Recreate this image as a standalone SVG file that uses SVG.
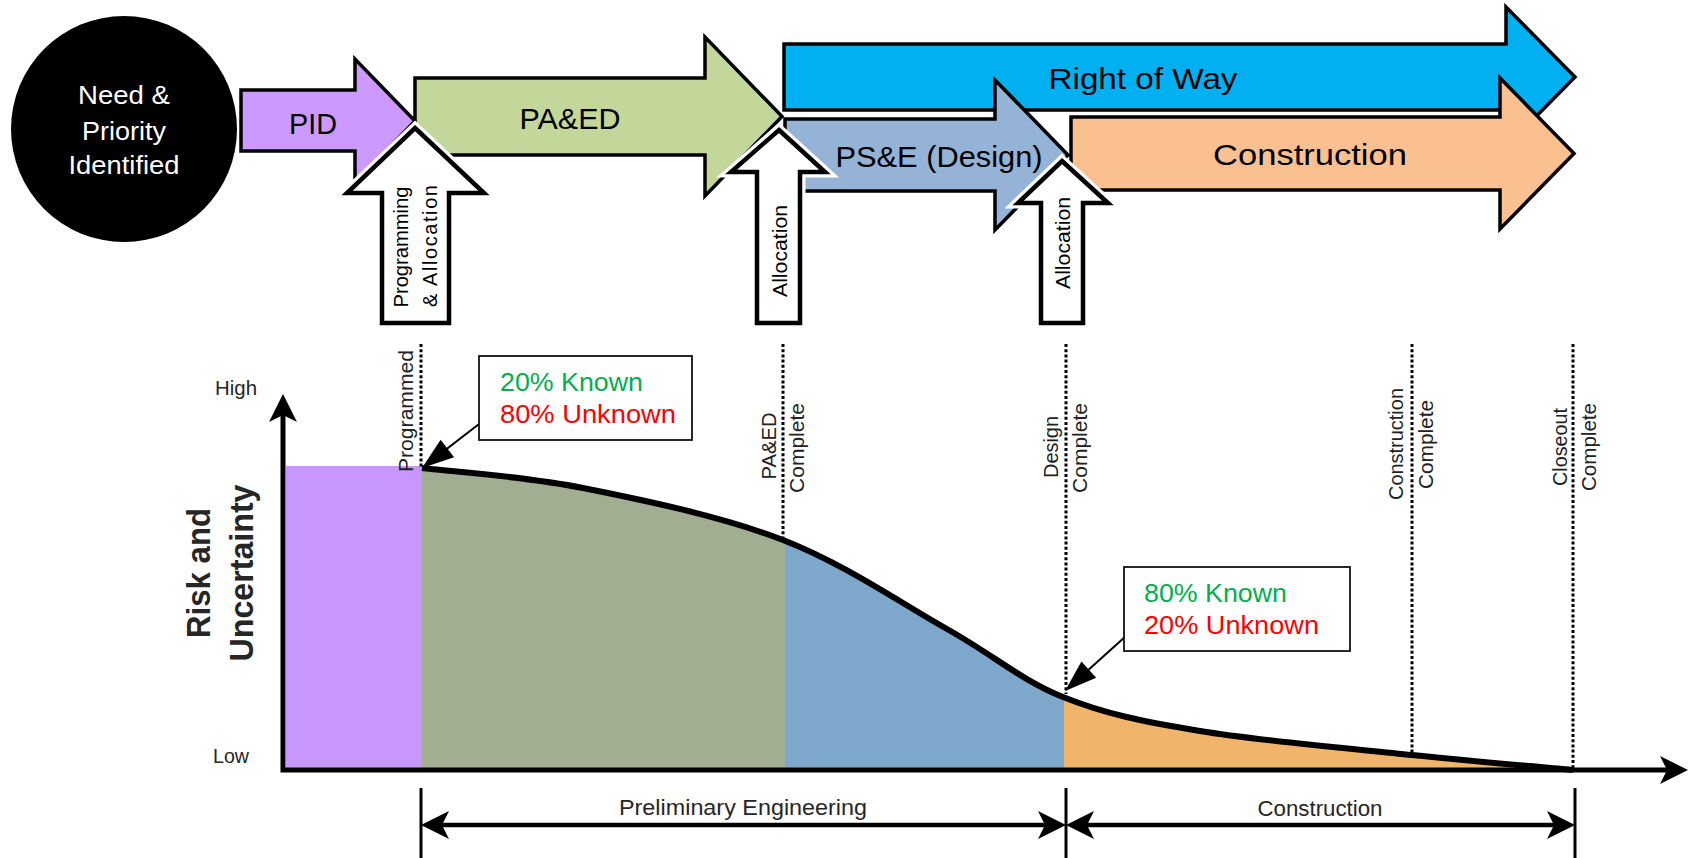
<svg xmlns="http://www.w3.org/2000/svg" width="1690" height="858" viewBox="0 0 1690 858">
<style>
text{font-family:"Liberation Sans",Arial,sans-serif}
.ph{stroke:#000;stroke-width:3.5;stroke-linejoin:miter}
.halo{fill:#fff;stroke:#fff;stroke-width:11;stroke-linejoin:miter}
.up{fill:#fff;stroke:#000;stroke-width:4.5;stroke-linejoin:miter}
.lbl{font-size:29px;fill:#000;text-anchor:middle}
.circ{font-size:25px;fill:#fff;text-anchor:middle}
.upt{font-size:20px;fill:#000;text-anchor:middle}
.ms{font-size:21px;fill:#222;text-anchor:middle}
.dot{stroke:#000;stroke-width:3;stroke-dasharray:3 2.2;fill:none}
.ax{font-size:20px;fill:#262626}
.bl{font-size:22px;fill:#262626;text-anchor:middle}
.rk{font-size:34px;font-weight:bold;fill:#262626;text-anchor:middle}
.call{font-size:25px}
.box{fill:#fff;stroke:#111;stroke-width:1.8}
</style>
<defs>
<marker id="ah" viewBox="-30 -16 32 32" refX="-8" refY="0" markerWidth="32" markerHeight="32" markerUnits="userSpaceOnUse" orient="auto-start-reverse"><path d="M0,0 L-28,-14 L-21,0 L-28,14 Z" fill="#000"/></marker>
<marker id="ch" viewBox="-34 -13 36 26" refX="-4" refY="0" markerWidth="36" markerHeight="26" markerUnits="userSpaceOnUse" orient="auto"><path d="M0,0 L-32,-11 L-32,11 Z" fill="#000"/></marker>
<clipPath id="cG"><rect x="421" y="300" width="364" height="475"/></clipPath>
<clipPath id="cB"><rect x="785" y="300" width="279" height="475"/></clipPath>
<clipPath id="cO"><rect x="1064" y="300" width="509" height="475"/></clipPath>
<path id="area" d="M422,770 L422,468 C448.8,471.3 522.8,476 583,488 C643.2,500 722.3,516.5 783,540 C843.7,563.5 900.3,602.8 947,629 C993.7,655.2 1020.8,680 1063,697 C1105.2,714 1141.8,721.3 1200,731 C1258.2,740.7 1349.8,748.5 1412,755 C1474.2,761.5 1546.2,767.5 1573,770 Z"/>
</defs>
<rect width="1690" height="858" fill="#fff"/>

<g id="need">
<circle cx="124" cy="129" r="113" fill="#000"/>
<text class="circ" x="124" y="104" textLength="92" lengthAdjust="spacingAndGlyphs">Need &amp;</text>
<text class="circ" x="124" y="140" textLength="84" lengthAdjust="spacingAndGlyphs">Priority</text>
<text class="circ" x="124" y="174" textLength="111" lengthAdjust="spacingAndGlyphs">Identified</text>
</g>

<g id="pid">
<path class="ph" fill="#CC99FF" d="M241,90 L355,90 L355,59 L415,121 L355,183 L355,151 L241,151 Z"/>
<text class="lbl" x="313" y="134" textLength="48" lengthAdjust="spacingAndGlyphs">PID</text>
</g>

<g id="paed">
<path class="ph" fill="#C4D79B" d="M415,78 L705,78 L705,37 L782,116.5 L705,196 L705,155 L415,155 Z"/>
<text class="lbl" x="570" y="129" textLength="101" lengthAdjust="spacingAndGlyphs">PA&amp;ED</text>
</g>

<g id="row">
<path class="ph" fill="#00B0F0" d="M784,44 L1506,44 L1506,7 L1575,77 L1506,147 L1506,110 L784,110 Z"/>
<text class="lbl" x="1143" y="89" font-size="31" textLength="189" lengthAdjust="spacingAndGlyphs">Right of Way</text>
</g>

<g id="pse">
<path class="ph" fill="#95B3D7" d="M785,119 L995,119 L995,80 L1068,155 L995,230 L995,191 L785,191 Z"/>
<text class="lbl" x="939" y="167" font-size="29" textLength="207" lengthAdjust="spacingAndGlyphs">PS&amp;E (Design)</text>
</g>

<g id="construction">
<path class="ph" fill="#FAC090" d="M1071,117 L1500,117 L1500,78 L1574,153.5 L1500,229 L1500,190 L1071,190 Z"/>
<text class="lbl" x="1310" y="165" font-size="32" textLength="194" lengthAdjust="spacingAndGlyphs">Construction</text>
</g>

<g id="alloc1">
<path class="halo" d="M415,128 L484,193 L449,193 L449,323 L382,323 L382,193 L347,193 Z"/>
<path class="up" d="M415,128 L484,193 L449,193 L449,323 L382,323 L382,193 L347,193 Z"/>
<text class="upt" transform="translate(408,247) rotate(-90)" textLength="121" lengthAdjust="spacingAndGlyphs">Programming</text>
<text class="upt" transform="translate(437,246) rotate(-90)" textLength="122">&amp; Allocation</text>
</g>

<g id="alloc2">
<path class="halo" d="M779,130 L825,172 L800,172 L800,323 L757,323 L757,172 L731,172 Z"/>
<path class="up" d="M779,130 L825,172 L800,172 L800,323 L757,323 L757,172 L731,172 Z"/>
<text class="upt" font-size="21" transform="translate(787,251) rotate(-90)" textLength="92" lengthAdjust="spacingAndGlyphs">Allocation</text>
</g>

<g id="alloc3">
<path class="halo" d="M1062,161 L1108,203 L1083,203 L1083,323 L1041,323 L1041,203 L1018,203 Z"/>
<path class="up" d="M1062,161 L1108,203 L1083,203 L1083,323 L1041,323 L1041,203 L1018,203 Z"/>
<text class="upt" font-size="21" transform="translate(1070,243) rotate(-90)" textLength="92" lengthAdjust="spacingAndGlyphs">Allocation</text>
</g>

<g id="chart">
<rect x="286" y="466" width="136" height="304" fill="#C897FC"/>
<use href="#area" fill="#A1AE91" clip-path="url(#cG)"/>
<use href="#area" fill="#7EA8CB" clip-path="url(#cB)"/>
<use href="#area" fill="#F0B46A" clip-path="url(#cO)"/>
</g>

<g id="milestones">
<line class="dot" x1="421" y1="344" x2="421" y2="468"/>
<line class="dot" x1="783" y1="344" x2="783" y2="540"/>
<line class="dot" x1="1066" y1="344" x2="1066" y2="694"/>
<line class="dot" x1="1412" y1="344" x2="1412" y2="753"/>
<line class="dot" x1="1573" y1="344" x2="1573" y2="770"/>
<text class="ms" transform="translate(413,411) rotate(-90)" textLength="122" lengthAdjust="spacingAndGlyphs">Programmed</text>
<text class="ms" transform="translate(776,446) rotate(-90)" textLength="67" lengthAdjust="spacingAndGlyphs">PA&amp;ED</text>
<text class="ms" transform="translate(804,448) rotate(-90)" textLength="90" lengthAdjust="spacingAndGlyphs">Complete</text>
<text class="ms" transform="translate(1058,447) rotate(-90)" textLength="62" lengthAdjust="spacingAndGlyphs">Design</text>
<text class="ms" transform="translate(1087,448) rotate(-90)" textLength="90" lengthAdjust="spacingAndGlyphs">Complete</text>
<text class="ms" transform="translate(1403,444) rotate(-90)" textLength="112" lengthAdjust="spacingAndGlyphs">Construction</text>
<text class="ms" transform="translate(1433,444.5) rotate(-90)" textLength="89" lengthAdjust="spacingAndGlyphs">Complete</text>
<text class="ms" transform="translate(1567,447) rotate(-90)" textLength="78" lengthAdjust="spacingAndGlyphs">Closeout</text>
<text class="ms" transform="translate(1596,447) rotate(-90)" textLength="88" lengthAdjust="spacingAndGlyphs">Complete</text>
</g>

<g id="connectors">
<path d="M422,468 C448.8,471.3 522.8,476 583,488 C643.2,500 722.3,516.5 783,540 C843.7,563.5 900.3,602.8 947,629 C993.7,655.2 1020.8,680 1063,697 C1105.2,714 1141.8,721.3 1200,731 C1258.2,740.7 1349.8,748.5 1412,755 C1474.2,761.5 1546.2,767.5 1573,770" fill="none" stroke="#000" stroke-width="6"/>
<path d="M283,402 L283,770 L1680,770" fill="none" stroke="#000" stroke-width="5" stroke-linejoin="miter" marker-start="url(#ah)" marker-end="url(#ah)"/>
<line x1="421" y1="788" x2="421" y2="858" stroke="#000" stroke-width="3"/>
<line x1="1066" y1="788" x2="1066" y2="858" stroke="#000" stroke-width="3"/>
<line x1="1575" y1="788" x2="1575" y2="858" stroke="#000" stroke-width="3"/>
<line x1="429" y1="825" x2="1058" y2="825" stroke="#000" stroke-width="4.5" marker-start="url(#ah)" marker-end="url(#ah)"/>
<line x1="1074" y1="825" x2="1567" y2="825" stroke="#000" stroke-width="4.5" marker-start="url(#ah)" marker-end="url(#ah)"/>
<line x1="479" y1="424" x2="425.2" y2="465.6" stroke="#000" stroke-width="2" marker-end="url(#ch)"/>
<line x1="1126" y1="636" x2="1068" y2="688.3" stroke="#000" stroke-width="2" marker-end="url(#ch)"/>
</g>

<g id="axis-labels">
<text class="ax" x="215" y="395" textLength="42" lengthAdjust="spacingAndGlyphs">High</text>
<text class="ax" x="213" y="763" textLength="36" lengthAdjust="spacingAndGlyphs">Low</text>
<text class="rk" transform="translate(210,573) rotate(-90)" textLength="130" lengthAdjust="spacingAndGlyphs">Risk and</text>
<text class="rk" transform="translate(253,573) rotate(-90)" textLength="177" lengthAdjust="spacingAndGlyphs">Uncertainty</text>
<text class="bl" x="743" y="815" textLength="248" lengthAdjust="spacingAndGlyphs">Preliminary Engineering</text>
<text class="bl" x="1320" y="816" textLength="125" lengthAdjust="spacingAndGlyphs">Construction</text>
</g>

<g id="callout1">
<rect class="box" x="479" y="356" width="213" height="84"/>
<text class="call" x="500" y="391" fill="#00B050" textLength="143" lengthAdjust="spacingAndGlyphs">20% Known</text>
<text class="call" x="500" y="423" fill="#FF0000" textLength="176" lengthAdjust="spacingAndGlyphs">80% Unknown</text>
</g>

<g id="callout2">
<rect class="box" x="1124" y="567" width="226" height="84"/>
<text class="call" x="1144" y="602" fill="#00B050" textLength="143" lengthAdjust="spacingAndGlyphs">80% Known</text>
<text class="call" x="1144" y="634" fill="#FF0000" textLength="175" lengthAdjust="spacingAndGlyphs">20% Unknown</text>
</g>
</svg>
